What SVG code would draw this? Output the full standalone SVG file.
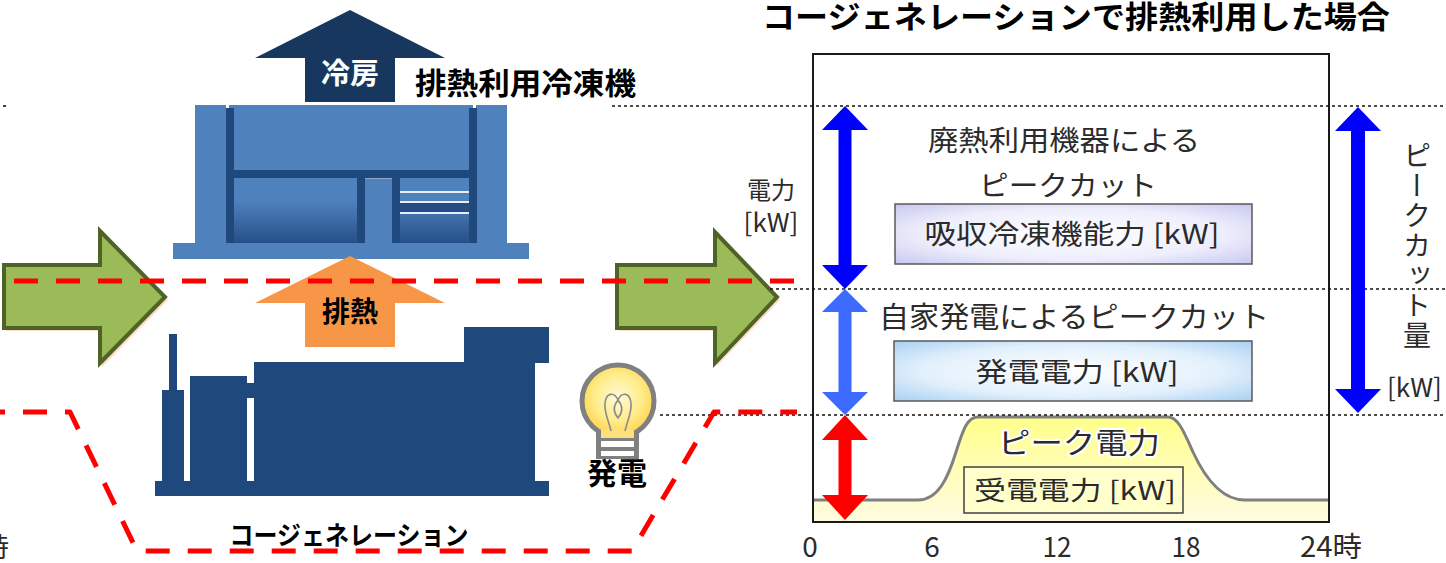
<svg xmlns="http://www.w3.org/2000/svg" width="1446" height="563" viewBox="0 0 1446 563">
  <style>
    .jpb { font-family: "Noto Sans CJK JP", "Noto Sans", sans-serif; font-weight: 700; fill: #000; }
    .jp { font-family: "Noto Sans CJK JP", "Noto Sans", sans-serif; fill: #2b2b2b; }
    .mid { text-anchor: middle; }
    .dot { fill: none; stroke: #111; stroke-width: 1.6; stroke-dasharray: 3 3; }
    .red { fill: none; stroke: #ff0000; stroke-width: 5; stroke-dasharray: 24 18; stroke-linejoin: round; }
    .green { fill: #9bbb59; stroke: #4f6228; stroke-width: 4; }
    .shadow { fill: #fbd5b5; opacity: 0.8; }
    .navy { fill: #1f497d; }
    .lblue { fill: #4f81bd; }
    .halo { stroke: #fff; stroke-width: 4; paint-order: stroke; stroke-linejoin: round; }
  </style>
  <defs>
    <linearGradient id="panel" x1="0" y1="0" x2="0" y2="1">
      <stop offset="0" stop-color="#4f81bd"/>
      <stop offset="0.35" stop-color="#4f81bd"/>
      <stop offset="1" stop-color="#264f88"/>
    </linearGradient>
    <radialGradient id="glass" cx="0.5" cy="0.45" r="0.55">
      <stop offset="0" stop-color="#fffbd8"/>
      <stop offset="0.6" stop-color="#ffec8a"/>
      <stop offset="1" stop-color="#ffd24a"/>
    </radialGradient>
    <radialGradient id="lavender" cx="0.5" cy="0.5" r="0.7">
      <stop offset="0" stop-color="#ffffff"/>
      <stop offset="0.6" stop-color="#eeeefc"/>
      <stop offset="1" stop-color="#c8c8f0"/>
    </radialGradient>
    <radialGradient id="skyblue" cx="0.5" cy="0.5" r="0.7">
      <stop offset="0" stop-color="#ffffff"/>
      <stop offset="0.6" stop-color="#e2f0fc"/>
      <stop offset="1" stop-color="#a9d0f2"/>
    </radialGradient>
    <linearGradient id="peak" x1="0" y1="417" x2="0" y2="522" gradientUnits="userSpaceOnUse">
      <stop offset="0" stop-color="#ffff8a"/>
      <stop offset="1" stop-color="#fffbe2"/>
    </linearGradient>
  </defs>

  <!-- remains of the neighbouring chart at the left edge -->
  <g id="left-edge">
    <line class="dot" x1="3" y1="106" x2="7" y2="106"/>
    <text class="jp" x="9" y="557" font-size="27" text-anchor="end">24時</text>
  </g>

  <!-- cooling arrow from the chiller -->
  <g id="cooling-arrow">
    <path d="M350,10 L445,58 L395,58 L395,102 L305,102 L305,58 L255,58 Z" fill="#17375e"/>
    <text class="jpb mid" x="350" y="84" font-size="29" style="fill:#fff">冷房</text>
  </g>

  <g id="chiller-label">
    <text class="jpb" x="415" y="94" font-size="30" textLength="221" lengthAdjust="spacingAndGlyphs">排熱利用冷凍機</text>
  </g>

  <!-- absorption chiller (building) -->
  <g id="chiller">
    <rect class="lblue" x="195" y="105" width="312" height="138"/>
    <rect class="lblue" x="173" y="243" width="356" height="16"/>
    <rect fill="#fff" x="226" y="104" width="3" height="4"/>
    <rect fill="#fff" x="473" y="104" width="3" height="4"/>
    <rect class="navy" x="226" y="108" width="251" height="135"/>
    <rect class="lblue" x="234" y="108" width="235" height="62"/>
    <rect fill="url(#panel)" x="234" y="178" width="123" height="65"/>
    <rect class="lblue" x="365" y="178" width="27" height="65"/>
    <line x1="365" y1="178.5" x2="392" y2="178.5" stroke="#8ea6c6" stroke-width="1"/>
    <rect fill="url(#panel)" x="400" y="178" width="69" height="65"/>
    <rect x="400" y="202" width="69" height="11" fill="#244d86"/>
    <g stroke="#e8eef6" stroke-width="2">
      <line x1="400" y1="192" x2="469" y2="192"/>
      <line x1="400" y1="202" x2="469" y2="202"/>
      <line x1="400" y1="213" x2="469" y2="213"/>
    </g>
  </g>

  <!-- exhaust heat arrow -->
  <g id="heat-arrow">
    <path d="M350,256 L445,303 L395,303 L395,347 L305,347 L305,303 L255,303 Z" fill="#f79646"/>
    <text class="jpb mid" x="350" y="322" font-size="28">排熱</text>
  </g>

  <!-- cogeneration unit -->
  <g id="cogeneration" class="navy">
    <rect x="155" y="481" width="394" height="15"/>
    <rect x="169" y="334" width="8" height="60"/>
    <rect x="162" y="390" width="22" height="91"/>
    <rect x="190" y="376" width="57" height="105"/>
    <rect x="246" y="383" width="10" height="15"/>
    <rect x="254" y="362" width="281" height="119"/>
    <rect x="464" y="327" width="85" height="36"/>
  </g>
  <g id="cogeneration-label">
    <text class="jpb mid" x="349" y="545" font-size="26" textLength="239" lengthAdjust="spacingAndGlyphs">コージェネレーション</text>
  </g>

  <!-- light bulb: generated power -->
  <g id="bulb">
    <rect x="596" y="428" width="43" height="31" fill="#808080"/>
    <rect x="601" y="441" width="33" height="6" fill="#fff"/>
    <rect x="601" y="451" width="33" height="5" fill="#fff"/>
    <circle cx="618" cy="401" r="36" fill="url(#glass)" stroke="#808080" stroke-width="5"/>
    <rect x="601" y="430" width="33" height="8" fill="#ffe07a"/>
    <path d="M611,431 C609,421 604,413 605,403 C606,393 614,391 618,400 C622,391 630,393 631,403 C632,413 627,421 625,431 M618,400 C613,406 613,412 618,418 C623,412 623,406 618,400" fill="none" stroke="#8c8c8c" stroke-width="1.6"/>
    <text class="jpb mid" x="617" y="484" font-size="30">発電</text>
  </g>

  <!-- energy flow arrows -->
  <g id="flow-left">
    <path class="shadow" d="M6,268 H102 V234 L168,300 L102,367 V331 H6 Z"/>
    <path class="green" d="M4,265 H100 V231 L165,297 L100,363 V328 H4 Z"/>
  </g>
  <g id="flow-right">
    <path class="shadow" d="M619,268 H717 V235 L780,300 L717,366 V331 H619 Z"/>
    <path class="green" d="M617,265 H715 V232 L777,297 L715,363 V328 H617 Z"/>
  </g>

  <!-- load chart -->
  <g id="chart">
    <path d="M813,500 H918 C938,500 948,478 956,452 C963,430 967,417 978,417 H1168 C1178,417 1184,432 1193,452 C1205,478 1222,500 1245,500 H1329 V522 H813 Z" fill="url(#peak)"/>
    <path d="M813,500 H918 C938,500 948,478 956,452 C963,430 967,417 978,417 H1168 C1178,417 1184,432 1193,452 C1205,478 1222,500 1245,500 H1329" fill="none" stroke="#808080" stroke-width="3"/>
    <rect x="813" y="54" width="516" height="468" fill="none" stroke="#1a1a1a" stroke-width="2"/>
  </g>

  <!-- dashed/dotted guide lines -->
  <g id="connectors">
    <line class="dot" x1="612" y1="106" x2="1446" y2="106"/>
    <line class="dot" x1="770" y1="289" x2="1446" y2="289"/>
    <line class="dot" x1="660" y1="415" x2="1446" y2="415"/>
    <line class="red" x1="14" y1="281" x2="795" y2="281"/>
    <polyline class="red" points="-19,412 70,412 137,551 632,551 714,412 797,412"/>
  </g>

  <!-- peak-cut double arrows -->
  <g id="cut-arrows">
    <path d="M845,106 L868,130 L851.5,130 L851.5,265 L868,265 L845,289 L822,265 L838.5,265 L838.5,130 L822,130 Z" fill="#0000ff"/>
    <path d="M845,289 L868,312 L851.5,312 L851.5,392 L868,392 L845,415 L822,392 L838.5,392 L838.5,312 L822,312 Z" fill="#3d6bff"/>
    <path d="M845,415 L868,440 L851.5,440 L851.5,495 L868,495 L845,520 L822,495 L838.5,495 L838.5,440 L822,440 Z" fill="#ff0000"/>
    <path d="M1358,107 L1381,131 L1365,131 L1365,389 L1381,389 L1358,413 L1335,389 L1351,389 L1351,131 L1335,131 Z" fill="#0000ff"/>
  </g>

  <!-- chart labels -->
  <g id="chart-title">
    <text class="jpb" x="762" y="28" font-size="31" textLength="628" lengthAdjust="spacingAndGlyphs">コージェネレーションで排熱利用した場合</text>
  </g>
  <g id="axis-labels">
    <text class="jp mid" font-size="24"><tspan x="771" y="199">電力</tspan><tspan x="771" y="232" font-size="26">[kW]</tspan></text>
    <text class="jp mid" x="810" y="557" font-size="28">0</text>
    <text class="jp mid" x="932" y="557" font-size="28">6</text>
    <text class="jp mid" x="1057" y="557" font-size="28" textLength="29" lengthAdjust="spacingAndGlyphs">12</text>
    <text class="jp mid" x="1186" y="557" font-size="28" textLength="29" lengthAdjust="spacingAndGlyphs">18</text>
    <text class="jp" x="1300" y="557" font-size="28" textLength="62" lengthAdjust="spacingAndGlyphs">24時</text>
  </g>

  <g id="chiller-cut">
    <text class="jp mid" x="1064" y="151" font-size="28" textLength="272" lengthAdjust="spacingAndGlyphs">廃熱利用機器による</text>
    <text class="jp mid" x="1068" y="196" font-size="28" textLength="178" lengthAdjust="spacingAndGlyphs">ピークカット</text>
    <rect x="895" y="204" width="357" height="60" fill="url(#lavender)" stroke="#5a5a5a" stroke-width="1.5"/>
    <text class="jp mid" x="1072" y="244" font-size="27" textLength="295" lengthAdjust="spacingAndGlyphs">吸収冷凍機能力 [kW]</text>
  </g>

  <g id="generation-cut">
    <text class="jp" x="879" y="328" font-size="29" textLength="390" lengthAdjust="spacingAndGlyphs">自家発電によるピークカット</text>
    <rect x="894" y="341" width="358" height="60" fill="url(#skyblue)" stroke="#5a5a5a" stroke-width="1.5"/>
    <text class="jp mid" x="1077" y="382" font-size="27" textLength="203" lengthAdjust="spacingAndGlyphs">発電電力 [kW]</text>
  </g>

  <g id="received-power">
    <text class="jp mid halo" x="1079" y="454" font-size="29" textLength="162" lengthAdjust="spacingAndGlyphs">ピーク電力</text>
    <rect x="964" y="467" width="219" height="46" fill="#ffffcc" stroke="#404040" stroke-width="1.5"/>
    <text class="jp mid" x="1075" y="500" font-size="26" textLength="202" lengthAdjust="spacingAndGlyphs">受電電力 [kW]</text>
  </g>

  <g id="peak-cut-label">
    <text class="jp" x="1417" y="141" font-size="28" letter-spacing="2" style="writing-mode: vertical-rl;">ピークカット量</text>
    <text class="jp" x="1387" y="397" font-size="26">[kW]</text>
  </g>
</svg>
